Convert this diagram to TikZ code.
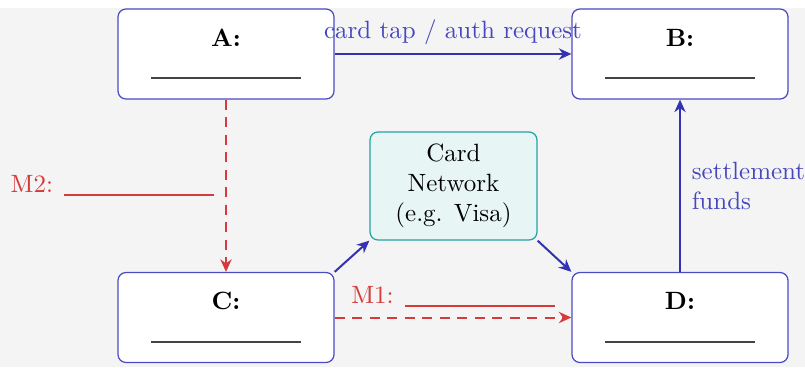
\documentclass[tikz,border=0pt]{standalone}
\usetikzlibrary{arrows.meta}
\definecolor{bgc}{HTML}{F4F4F4}
\definecolor{boxblue}{HTML}{4A4AC4}
\definecolor{arrblue}{HTML}{3232B2}
\definecolor{lblblue}{HTML}{4646BE}
\definecolor{mred}{HTML}{D63A3A}
\definecolor{tealline}{HTML}{22A4A4}
\definecolor{tealfill}{HTML}{E8F5F5}
\definecolor{ruleg}{HTML}{444444}
\newcommand{\blankline}{\textcolor{ruleg}{\rule{60pt}{0.75pt}}}
\newcommand{\redblank}{\textcolor{mred}{\rule[-1.3pt]{60pt}{0.8pt}}}
\begin{document}
\begin{tikzpicture}[x=0.4pt,y=-0.4pt,
  party/.style={draw=boxblue, fill=white, rounded corners=3.2pt, line width=0.5pt,
    minimum width=86.4pt, minimum height=36pt, align=center, inner sep=0pt},
  netbox/.style={draw=tealline, fill=tealfill, rounded corners=3.2pt, line width=0.5pt,
    minimum width=66.8pt, minimum height=43.2pt, align=center, inner sep=0pt},
  barrow/.style={draw=arrblue, line width=0.8pt, -{Stealth[length=5pt,width=4.5pt,inset=1.6pt]}},
  rarrow/.style={draw=mred, line width=0.8pt, dash pattern=on 4pt off 3pt, -{Stealth[length=5pt,width=4.5pt,inset=1.6pt]}},
  blbl/.style={text=lblblue},
  rlbl/.style={text=mred}
]
\useasboundingbox (0,0) rectangle (805,367);
\fill[bgc] (0,8) rectangle (805,367);

\node[party] (A) at (226,54) {\textbf{A:}\\[1.2pt]\blankline};
\node[party] (B) at (680,54) {\textbf{B:}\\[1.2pt]\blankline};
\node[party] (C) at (226,317.5) {\textbf{C:}\\[1.2pt]\blankline};
\node[party] (D) at (680,317.5) {\textbf{D:}\\[1.2pt]\blankline};
\node[netbox] (N) at (453.5,186) {Card\\Network\\(e.g. Visa)};

\draw[barrow] (A.east) -- node[midway, above, blbl] (lab1) {card tap / auth request} (B.west);
\draw[barrow] (C.north east) -- (N.south west);
\draw[barrow] (N.south east) -- (D.north west);
\draw[barrow] (D.north) -- node[midway, right, blbl, align=left, xshift=1pt] (lab2) {settlement\\funds} (B.south);
\draw[rarrow] (A.south) -- node[midway, left, rlbl, xshift=-1pt] (lab3) {M2: \redblank} (C.north);
\draw[rarrow] (C.east) -- node[midway, above=0.4pt, rlbl] (lab4) {M1: \redblank} (D.west);
\end{tikzpicture}
\end{document}
